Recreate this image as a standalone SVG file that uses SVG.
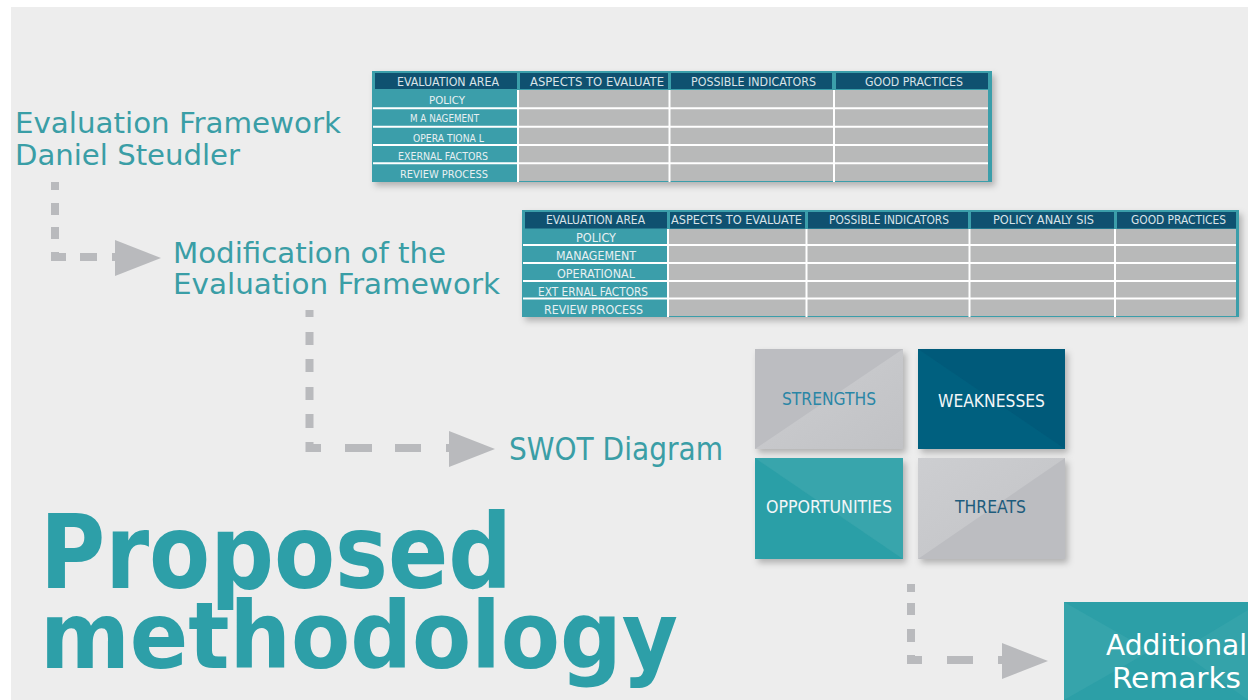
<svg xmlns="http://www.w3.org/2000/svg" width="1248" height="700" viewBox="0 0 1248 700">
<defs>
<filter id="sh" x="-10%" y="-10%" width="130%" height="140%">
<feDropShadow dx="3" dy="4" stdDeviation="3" flood-color="#000" flood-opacity="0.25"/>
</filter>
<linearGradient id="gl" x1="0" y1="0" x2="1" y2="1">
<stop offset="0" stop-color="#cdced1"/><stop offset="1" stop-color="#c1c2c5"/>
</linearGradient>
</defs>
<style>
.cond{font-family:"DejaVu Sans Condensed","DejaVu Sans",sans-serif;font-stretch:condensed}
.title{fill:#3a9ea6;font-size:28px}
.th{fill:#d9e3e8;font-size:12px;text-anchor:start}
.rl{fill:#e8f0f2;font-size:11px}
.sw{font-size:18px}
.conn{fill:none;stroke:#b9babd;stroke-width:8;stroke-linecap:butt;stroke-linejoin:miter}
.ah{fill:#b9babd}
.wl{stroke:#ffffff;stroke-width:2}
.cell{fill:#b8b9b9}
.hd{fill:#0f5170}
.big{fill:#2d9fa8;font-family:"DejaVu Sans Condensed","DejaVu Sans",sans-serif;font-stretch:condensed;font-weight:bold}
</style>
<rect x="0" y="0" width="1248" height="700" fill="#ffffff"/>
<rect x="11" y="7" width="1237" height="693" fill="#ededed"/>

<g id="title-evaluation-framework">
<text class="cond title" x="15" y="133" textLength="326" lengthAdjust="spacingAndGlyphs">Evaluation Framework</text>
<text class="cond title" x="15" y="165" textLength="225" lengthAdjust="spacingAndGlyphs">Daniel Steudler</text>
</g>

<g id="table1" class="cond">
<rect x="372" y="71" width="620" height="111" fill="#3a9eaa" filter="url(#sh)"/>
<rect class="hd" x="375" y="73" width="142" height="16"/>
<rect class="hd" x="520" y="73" width="148" height="16"/>
<rect class="hd" x="671" y="73" width="161" height="16"/>
<rect class="hd" x="836" y="73" width="152" height="16"/>
<rect class="cell" x="519" y="90" width="469" height="91"/>
<line class="wl" x1="518" y1="90" x2="518" y2="182"/>
<line class="wl" x1="669.5" y1="90" x2="669.5" y2="182"/>
<line class="wl" x1="834" y1="90" x2="834" y2="182"/>
<line class="wl" x1="373" y1="108.3" x2="988" y2="108.3"/>
<line class="wl" x1="373" y1="126.7" x2="988" y2="126.7"/>
<line class="wl" x1="373" y1="145" x2="988" y2="145"/>
<line class="wl" x1="373" y1="163.3" x2="988" y2="163.3"/>
<text class="th" x="397" y="86" textLength="102" lengthAdjust="spacingAndGlyphs">EVALUATION AREA</text>
<text class="th" x="530" y="86" textLength="134" lengthAdjust="spacingAndGlyphs">ASPECTS TO EVALUATE</text>
<text class="th" x="691" y="86" textLength="125" lengthAdjust="spacingAndGlyphs">POSSIBLE INDICATORS</text>
<text class="th" x="865" y="86" textLength="98" lengthAdjust="spacingAndGlyphs">GOOD PRACTICES</text>
<text class="rl" x="429" y="104" textLength="36" lengthAdjust="spacingAndGlyphs">POLICY</text>
<text class="rl" x="410" y="122" textLength="69" lengthAdjust="spacingAndGlyphs">M A NAGEMENT</text>
<text class="rl" x="413" y="141.5" textLength="71" lengthAdjust="spacingAndGlyphs">OPERA TIONA L</text>
<text class="rl" x="398" y="159.5" textLength="90" lengthAdjust="spacingAndGlyphs">EXERNAL FACTORS</text>
<text class="rl" x="400" y="178" textLength="88" lengthAdjust="spacingAndGlyphs">REVIEW PROCESS</text>
</g>

<g id="title-modification">
<text class="cond title" x="173" y="263" textLength="273" lengthAdjust="spacingAndGlyphs">Modification of the</text>
<text class="cond title" x="173" y="294" textLength="327" lengthAdjust="spacingAndGlyphs">Evaluation Framework</text>
</g>

<g id="table2" class="cond">
<rect x="522" y="210" width="717" height="107" fill="#3a9eaa" filter="url(#sh)"/>
<rect class="hd" x="525" y="212" width="142" height="16.5"/>
<rect class="hd" x="670" y="212" width="135" height="16.5"/>
<rect class="hd" x="808" y="212" width="160" height="16.5"/>
<rect class="hd" x="971" y="212" width="143" height="16.5"/>
<rect class="hd" x="1117" y="212" width="119" height="16.5"/>
<rect class="cell" x="669" y="229" width="567" height="87"/>
<line class="wl" x1="668" y1="229" x2="668" y2="317"/>
<line class="wl" x1="806.5" y1="229" x2="806.5" y2="317"/>
<line class="wl" x1="969.5" y1="229" x2="969.5" y2="317"/>
<line class="wl" x1="1115" y1="229" x2="1115" y2="317"/>
<line class="wl" x1="523" y1="245" x2="1236" y2="245"/>
<line class="wl" x1="523" y1="263" x2="1236" y2="263"/>
<line class="wl" x1="523" y1="281" x2="1236" y2="281"/>
<line class="wl" x1="523" y1="298.5" x2="1236" y2="298.5"/>
<text class="th" x="546" y="224" textLength="99" lengthAdjust="spacingAndGlyphs">EVALUATION AREA</text>
<text class="th" x="671" y="224" textLength="131" lengthAdjust="spacingAndGlyphs">ASPECTS TO EVALUATE</text>
<text class="th" x="829" y="224" textLength="120" lengthAdjust="spacingAndGlyphs">POSSIBLE INDICATORS</text>
<text class="th" x="993" y="224" textLength="101" lengthAdjust="spacingAndGlyphs">POLICY ANALY SIS</text>
<text class="th" x="1131" y="224" textLength="95" lengthAdjust="spacingAndGlyphs">GOOD PRACTICES</text>
<text class="rl" x="576" y="242" textLength="40" lengthAdjust="spacingAndGlyphs" style="font-size:13px">POLICY</text>
<text class="rl" x="556" y="259.5" textLength="80" lengthAdjust="spacingAndGlyphs" style="font-size:13px">MANAGEMENT</text>
<text class="rl" x="557" y="277.5" textLength="78" lengthAdjust="spacingAndGlyphs" style="font-size:13px">OPERATIONAL</text>
<text class="rl" x="538" y="295.5" textLength="110" lengthAdjust="spacingAndGlyphs" style="font-size:13px">EXT ERNAL FACTORS</text>
<text class="rl" x="544" y="313.5" textLength="99" lengthAdjust="spacingAndGlyphs" style="font-size:13px">REVIEW PROCESS</text>
</g>

<g id="title-swot">
<text class="cond title" x="509" y="460" textLength="214" lengthAdjust="spacingAndGlyphs" style="font-size:32px">SWOT Diagram</text>
</g>

<g id="swot-strengths">
<g filter="url(#sh)">
<rect x="755" y="349" width="148" height="100" fill="#bcbdc1"/>
<polygon points="903,349 903,449 755,449" fill="url(#gl)"/>
</g>
<text class="cond sw" x="782" y="405" fill="#2a86a6" textLength="94" lengthAdjust="spacingAndGlyphs">STRENGTHS</text>
</g>
<g id="swot-weaknesses">
<g filter="url(#sh)">
<rect x="918" y="349" width="147" height="100" fill="#015a7a"/>
<polygon points="918,349 1065,449 918,449" fill="#06607f"/>
</g>
<text class="cond sw" x="938" y="407" fill="#f2f6f8" textLength="107" lengthAdjust="spacingAndGlyphs">WEAKNESSES</text>
</g>
<g id="swot-opportunities">
<g filter="url(#sh)">
<rect x="755" y="458" width="148" height="101" fill="#2c9fa7"/>
<polygon points="755,458 903,458 903,559" fill="#37a5ac"/>
</g>
<text class="cond sw" x="766" y="513" fill="#f2f6f8" textLength="126" lengthAdjust="spacingAndGlyphs">OPPORTUNITIES</text>
</g>
<g id="swot-threats">
<g filter="url(#sh)">
<rect x="918" y="458" width="147" height="101" fill="#bcbdc1"/>
<polygon points="918,458 1065,458 918,559" fill="url(#gl)"/>
</g>
<text class="cond sw" x="955" y="513" fill="#1e5c7c" textLength="71" lengthAdjust="spacingAndGlyphs">THREATS</text>
</g>

<g id="additional-remarks">
<rect x="1064" y="602" width="184" height="98" fill="#2c9fa7"/>
<polygon points="1064,602 1150,651 1064,700" fill="#36a4ab"/>
<polygon points="1248,610 1180,651 1248,700" fill="#34a3aa"/>
<text class="cond" x="1106" y="655" fill="#ffffff" font-size="29" textLength="141" lengthAdjust="spacingAndGlyphs">Additional</text>
<text class="cond" x="1112" y="688" fill="#ffffff" font-size="29" textLength="129" lengthAdjust="spacingAndGlyphs">Remarks</text>
</g>

<g id="title-proposed">
<text class="big" x="40" y="588" font-size="104" textLength="472" lengthAdjust="spacingAndGlyphs">Proposed</text>
<text class="big" x="40" y="668" font-size="92" textLength="638" lengthAdjust="spacingAndGlyphs">methodology</text>
</g>

<g id="connectors">
<path class="conn" d="M55 182V190M55 203V215M55 227V239M55 252V257H66M80 257H97M112 257H116"/>
<polygon class="ah" points="115,240 161,258 115,276"/>
<path class="conn" d="M309.5 310V317M309.5 332V345M309.5 359V372M309.5 387V400M309.5 414V428M309.5 442V448H321M345 448H372M395 448H421M446 448H450"/>
<polygon class="ah" points="449,431 495,449 449,467"/>
<path class="conn" d="M911 584V592M911 603V615M911 629V642M911 655V660H922M947 660H973M998 660H1003"/>
<polygon class="ah" points="1002,643 1048,661 1002,679"/>
</g>
</svg>
